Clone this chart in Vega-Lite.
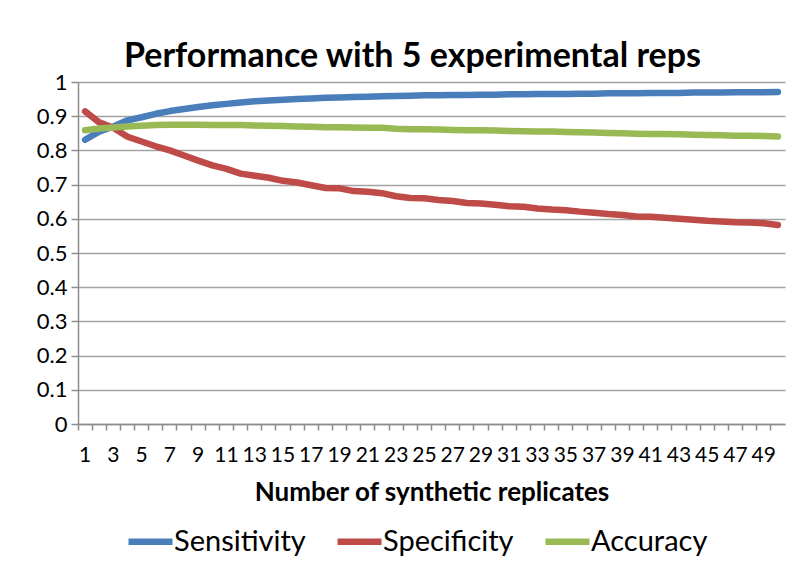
{
  "$schema": "https://vega.github.io/schema/vega-lite/v6.json",
  "width": 707,
  "height": 342,
  "autosize": "none",
  "padding": {"left": 78, "top": 82, "right": 20, "bottom": 149},
  "background": "white",
  "title": {
    "text": "Performance with 5 experimental reps",
    "font": "Lato",
    "fontSize": 34,
    "fontWeight": "bold",
    "color": "#000000",
    "anchor": "middle",
    "dx": -19,
    "offset": -3
  },
  "config": {
    "view": {"stroke": null},
    "axis": {
      "labelFont": "Lato",
      "labelColor": "#000000",
      "domainColor": "#8c8c8c",
      "domainWidth": 1.5,
      "tickColor": "#8c8c8c",
      "tickWidth": 1.5,
      "titleFont": "Lato",
      "titleColor": "#000000"
    }
  },
  "data": {
    "values": [
      {"reps": 1, "Sensitivity": 0.831, "Specificity": 0.914, "Accuracy": 0.859},
      {"reps": 2, "Sensitivity": 0.855, "Specificity": 0.882, "Accuracy": 0.864},
      {"reps": 3, "Sensitivity": 0.870, "Specificity": 0.866, "Accuracy": 0.867},
      {"reps": 4, "Sensitivity": 0.888, "Specificity": 0.840, "Accuracy": 0.870},
      {"reps": 5, "Sensitivity": 0.897, "Specificity": 0.826, "Accuracy": 0.872},
      {"reps": 6, "Sensitivity": 0.907, "Specificity": 0.812, "Accuracy": 0.874},
      {"reps": 7, "Sensitivity": 0.915, "Specificity": 0.800, "Accuracy": 0.875},
      {"reps": 8, "Sensitivity": 0.921, "Specificity": 0.785, "Accuracy": 0.875},
      {"reps": 9, "Sensitivity": 0.927, "Specificity": 0.770, "Accuracy": 0.875},
      {"reps": 10, "Sensitivity": 0.932, "Specificity": 0.756, "Accuracy": 0.874},
      {"reps": 11, "Sensitivity": 0.936, "Specificity": 0.746, "Accuracy": 0.874},
      {"reps": 12, "Sensitivity": 0.940, "Specificity": 0.732, "Accuracy": 0.874},
      {"reps": 13, "Sensitivity": 0.944, "Specificity": 0.726, "Accuracy": 0.873},
      {"reps": 14, "Sensitivity": 0.946, "Specificity": 0.720, "Accuracy": 0.872},
      {"reps": 15, "Sensitivity": 0.948, "Specificity": 0.711, "Accuracy": 0.871},
      {"reps": 16, "Sensitivity": 0.950, "Specificity": 0.706, "Accuracy": 0.870},
      {"reps": 17, "Sensitivity": 0.952, "Specificity": 0.698, "Accuracy": 0.869},
      {"reps": 18, "Sensitivity": 0.954, "Specificity": 0.690, "Accuracy": 0.868},
      {"reps": 19, "Sensitivity": 0.955, "Specificity": 0.689, "Accuracy": 0.868},
      {"reps": 20, "Sensitivity": 0.956, "Specificity": 0.681, "Accuracy": 0.867},
      {"reps": 21, "Sensitivity": 0.957, "Specificity": 0.679, "Accuracy": 0.866},
      {"reps": 22, "Sensitivity": 0.958, "Specificity": 0.675, "Accuracy": 0.866},
      {"reps": 23, "Sensitivity": 0.959, "Specificity": 0.666, "Accuracy": 0.863},
      {"reps": 24, "Sensitivity": 0.960, "Specificity": 0.661, "Accuracy": 0.862},
      {"reps": 25, "Sensitivity": 0.961, "Specificity": 0.660, "Accuracy": 0.862},
      {"reps": 26, "Sensitivity": 0.961, "Specificity": 0.655, "Accuracy": 0.861},
      {"reps": 27, "Sensitivity": 0.962, "Specificity": 0.652, "Accuracy": 0.860},
      {"reps": 28, "Sensitivity": 0.962, "Specificity": 0.646, "Accuracy": 0.859},
      {"reps": 29, "Sensitivity": 0.963, "Specificity": 0.645, "Accuracy": 0.859},
      {"reps": 30, "Sensitivity": 0.963, "Specificity": 0.641, "Accuracy": 0.858},
      {"reps": 31, "Sensitivity": 0.964, "Specificity": 0.637, "Accuracy": 0.857},
      {"reps": 32, "Sensitivity": 0.964, "Specificity": 0.635, "Accuracy": 0.856},
      {"reps": 33, "Sensitivity": 0.965, "Specificity": 0.630, "Accuracy": 0.855},
      {"reps": 34, "Sensitivity": 0.965, "Specificity": 0.627, "Accuracy": 0.855},
      {"reps": 35, "Sensitivity": 0.965, "Specificity": 0.625, "Accuracy": 0.854},
      {"reps": 36, "Sensitivity": 0.966, "Specificity": 0.621, "Accuracy": 0.853},
      {"reps": 37, "Sensitivity": 0.966, "Specificity": 0.618, "Accuracy": 0.852},
      {"reps": 38, "Sensitivity": 0.967, "Specificity": 0.614, "Accuracy": 0.851},
      {"reps": 39, "Sensitivity": 0.967, "Specificity": 0.611, "Accuracy": 0.850},
      {"reps": 40, "Sensitivity": 0.967, "Specificity": 0.607, "Accuracy": 0.849},
      {"reps": 41, "Sensitivity": 0.968, "Specificity": 0.606, "Accuracy": 0.848},
      {"reps": 42, "Sensitivity": 0.968, "Specificity": 0.603, "Accuracy": 0.848},
      {"reps": 43, "Sensitivity": 0.968, "Specificity": 0.600, "Accuracy": 0.847},
      {"reps": 44, "Sensitivity": 0.969, "Specificity": 0.597, "Accuracy": 0.846},
      {"reps": 45, "Sensitivity": 0.969, "Specificity": 0.594, "Accuracy": 0.845},
      {"reps": 46, "Sensitivity": 0.969, "Specificity": 0.592, "Accuracy": 0.844},
      {"reps": 47, "Sensitivity": 0.970, "Specificity": 0.590, "Accuracy": 0.843},
      {"reps": 48, "Sensitivity": 0.970, "Specificity": 0.589, "Accuracy": 0.843},
      {"reps": 49, "Sensitivity": 0.970, "Specificity": 0.587, "Accuracy": 0.842},
      {"reps": 50, "Sensitivity": 0.971, "Specificity": 0.582, "Accuracy": 0.841}
    ]
  },
  "transform": [
    {"fold": ["Sensitivity", "Specificity", "Accuracy"], "as": ["metric", "value"]}
  ],
  "mark": {"type": "line", "strokeWidth": 6.5, "strokeCap": "round", "strokeJoin": "round"},
  "encoding": {
    "x": {
      "field": "reps",
      "type": "ordinal",
      "scale": {"type": "band", "paddingInner": 0, "paddingOuter": 0},
      "axis": {
        "title": "Number of synthetic replicates",
        "titleFontSize": 26,
        "titleFontWeight": "bold",
        "titlePadding": 14,
        "labelAngle": 0,
        "labelFontSize": 21,
        "labelPadding": 14,
        "labelOverlap": false,
        "labelBound": false,
        "labelExpr": "datum.value % 2 == 1 ? datum.label : ''",
        "bandPosition": 0,
        "tickSize": 6,
        "grid": false
      }
    },
    "y": {
      "field": "value",
      "type": "quantitative",
      "scale": {"domain": [0, 1], "nice": false},
      "axis": {
        "title": null,
        "values": [0, 0.1, 0.2, 0.3, 0.4, 0.5, 0.6, 0.7, 0.8, 0.9, 1],
        "format": ".1~f",
        "labelFontSize": 22,
        "labelPadding": 4,
        "tickSize": 7,
        "grid": true,
        "gridColor": "#a3a3a3",
        "gridWidth": 1.5
      }
    },
    "color": {
      "field": "metric",
      "type": "nominal",
      "scale": {
        "domain": ["Sensitivity", "Specificity", "Accuracy"],
        "range": ["#4a7ebb", "#be4b48", "#98b954"]
      },
      "legend": {
        "title": null,
        "orient": "none",
        "direction": "horizontal",
        "legendX": 47,
        "legendY": 434,
        "padding": 0,
        "symbolType": "stroke",
        "symbolSize": 1936,
        "symbolStrokeWidth": 6.5,
        "labelFont": "Lato",
        "labelFontSize": 29,
        "labelColor": "#000000",
        "labelOffset": -2,
        "columnPadding": 18,
        "labelLimit": 300
      }
    }
  }
}
